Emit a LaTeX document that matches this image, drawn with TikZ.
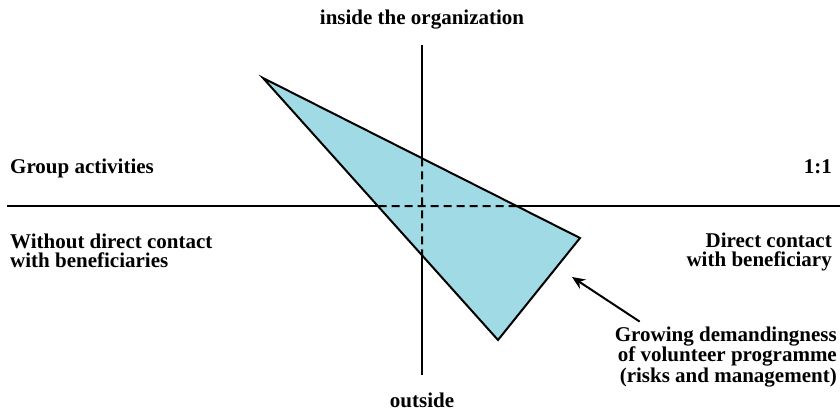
\documentclass[tikz,border=0pt]{standalone}
\usepackage{fontspec}
\setmainfont{Liberation Serif}
\usetikzlibrary{intersections,arrows.meta}
\definecolor{fieldblue}{RGB}{160,218,228}
\tikzset{
  axis/.style={line width=2pt},
  lbl/.style={font=\bfseries\fontsize{21}{19}\selectfont, inner sep=0pt},
}
\begin{document}
\begin{tikzpicture}[x=1pt,y=-1pt]
  \useasboundingbox (0,0) rectangle (840,412);
  % the two axes
  \coordinate (top) at (422,45);
  \coordinate (bot) at (422,375);
  \coordinate (west) at (7,206);
  \coordinate (east) at (840,206);
  \draw[axis, name path=vaxis] (top) -- (bot);
  \draw[axis, name path=haxis] (west) -- (east);
  % field of the volunteer programme
  \coordinate (tA) at (263,78);
  \coordinate (tB) at (580,238);
  \coordinate (tC) at (498,340);
  \filldraw[axis, fill=fieldblue, name path=tri] (tA) -- (tB) -- (tC) -- cycle;
  \path[name intersections={of=tri and haxis, name=h}];
  \path[name intersections={of=tri and vaxis, name=v}];
  \draw[axis, dash pattern=on 8pt off 5pt] (h-1) -- (h-2);
  \draw[axis, dash pattern=on 8pt off 5pt] (v-1) -- (v-2);
  % labels (multi-line ones sit on their last baseline)
  \node[lbl, anchor=base] (inside) at (422,25) {inside the organization};
  \node[lbl, anchor=base] (outside) at (422,407) {outside};
  \node[lbl, anchor=base west] (group) at (10,173) {Group activities};
  \node[lbl, anchor=base east] (oneone) at (832,173) {1:1};
  \node[lbl, anchor=base west, align=left] (without) at (10,267) {Without direct contact\\with beneficiaries};
  \node[lbl, anchor=base east, align=right] (direct) at (832,266) {Direct contact\\with beneficiary};
  \node[lbl, anchor=base east, align=right] (growing) at (837,382) {Growing demandingness\\of volunteer programme\\(risks and management)};
  \coordinate (tip) at (572,277);
  \draw[axis, -{Stealth[length=13pt,width=11pt]}] ([xshift=25pt,yshift=5pt]growing.north west) -- (tip);
\end{tikzpicture}
\end{document}
